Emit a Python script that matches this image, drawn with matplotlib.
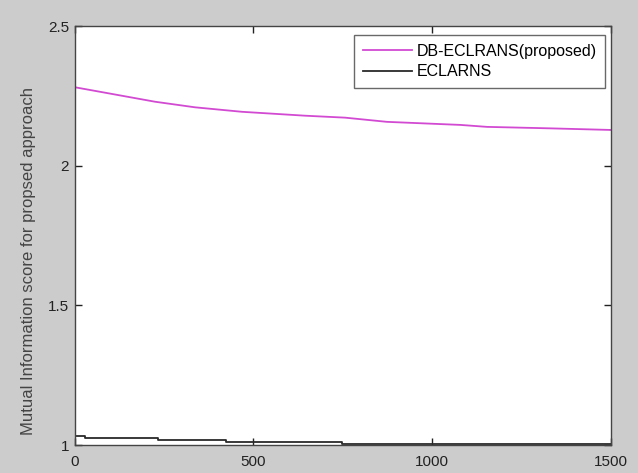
import matplotlib
matplotlib.use("Agg")
import matplotlib.pyplot as plt

# values
db_x = [0, 225, 337, 468, 645, 757, 874, 1080, 1154, 1322, 1500]
db_y = [2.281, 2.229, 2.209, 2.193, 2.179, 2.172, 2.157, 2.146, 2.139, 2.134, 2.128]

ec_x = [0, 28, 234, 424, 748, 1500]
ec_y = [1.032, 1.027, 1.020, 1.012, 1.004, 1.004]

x_ticks = [0, 500, 1000, 1500]
y_ticks = [1, 1.5, 2, 2.5]

plt.rcParams['font.family'] = ['Liberation Sans', 'DejaVu Sans']

fig = plt.figure(figsize=(6.38, 4.73), dpi=100, facecolor="#cccccc")
ax = fig.add_axes([0.117, 0.059, 0.840, 0.886])
ax.set_facecolor("white")

ax.plot(db_x, db_y, color="#d24ad2", lw=1.3, label="DB-ECLRANS(proposed)")
ax.plot(ec_x, ec_y, color="#2a2a2a", lw=1.3, drawstyle="steps-post", label="ECLARNS")

ax.set_xlim(0, 1500)
ax.set_ylim(1, 2.5)
ax.set_xticks(x_ticks)
ax.set_xticklabels([str(t) for t in x_ticks])
ax.set_yticks(y_ticks)
ax.set_yticklabels(["1", "1.5", "2", "2.5"])
ax.tick_params(direction="in", top=True, right=True, length=5, width=1,
               labelsize=11, colors="#222222", pad=4)
ax.tick_params(axis="x", pad=7)
for s in ax.spines.values():
    s.set_color("#444444")
    s.set_linewidth(1)

ax.set_ylabel("Mutual Information score for propsed approach", fontsize=12,
              color="#444444")
ax.yaxis.set_label_coords(-0.072, 0.44)

leg = ax.legend(loc="upper right", bbox_to_anchor=(0.99, 0.979), fontsize=11.5,
                frameon=True, fancybox=False, edgecolor="#444444",
                handlelength=3.1, handletextpad=0.25, borderpad=0.55,
                labelspacing=0.35, borderaxespad=0)
leg.get_frame().set_linewidth(1)

fig.savefig("out.png", dpi=100, facecolor=fig.get_facecolor())
